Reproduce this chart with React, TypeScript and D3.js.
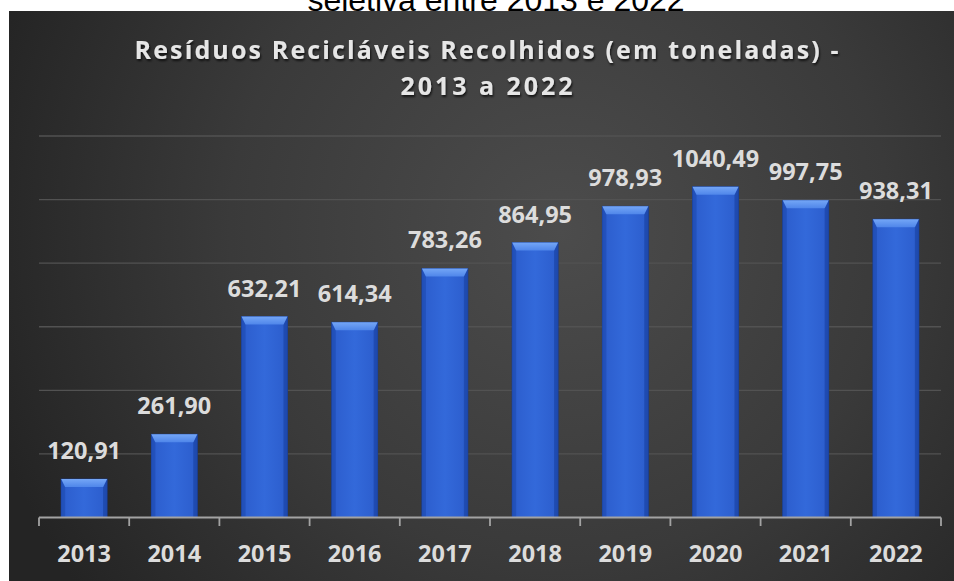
import React from 'react';
import * as d3 from 'd3';

// values
const years = ['2013', '2014', '2015', '2016', '2017', '2018', '2019', '2020', '2021', '2022'];
const tonnes = [120.91, 261.9, 632.21, 614.34, 783.26, 864.95, 978.93, 1040.49, 997.75, 938.31];
const gridValues = [200, 400, 600, 800, 1000, 1200];
const titleLines = ['Resíduos Recicláveis Recolhidos (em toneladas) -', '2013 a 2022'];
const captionAbove = 'seletiva entre 2013 e 2022';

const W = 954;
const H = 581;
const margin = { left: 39, right: 13, top: 136, bottom: 63.5 };
const FONT = "'Open Sans', 'DejaVu Sans', sans-serif";

const ptBR = d3.formatLocale({ decimal: ',', thousands: '', grouping: [3], currency: ['', ''] });
const fmt = ptBR.format('.2f');

const App = () => {
  const x = d3.scaleBand<string>()
    .domain(years)
    .range([margin.left, W - margin.right])
    .padding(0);

  const y = d3.scaleLinear()
    .domain([0, 1200])
    .range([H - margin.bottom, margin.top]);

  const barW = x.bandwidth() * 0.51;
  const bev = 8;
  const side = 4;
  const y0 = y(0);
  const boundaries = years.map(d => x(d) as number).concat([x.range()[1]]);
  const cx = (9 + W) / 2 + 5;

  return (
    <svg width={W} height={H} style={{ position: 'absolute', left: 0, top: 0 }}>
      <defs>
        <radialGradient id="bg" gradientUnits="userSpaceOnUse" cx={560} cy={230} r={600}>
          <stop offset="0" stopColor="#4c4c4c" />
          <stop offset="0.55" stopColor="#3a3a3a" />
          <stop offset="1" stopColor="#242424" />
        </radialGradient>
        <linearGradient id="face" x1="0" x2="1" y1="0" y2="0">
          <stop offset="0" stopColor="#1d48ad" />
          <stop offset="0.1" stopColor="#2d5fcf" />
          <stop offset="0.5" stopColor="#3369da" />
          <stop offset="0.9" stopColor="#2d5fcf" />
          <stop offset="1" stopColor="#1d48ad" />
        </linearGradient>
        <linearGradient id="bevelTop" x1="0" x2="0" y1="0" y2="1">
          <stop offset="0" stopColor="#74a6f6" />
          <stop offset="1" stopColor="#4f86ea" />
        </linearGradient>
        <filter id="shadow" x="-5%" y="-20%" width="110%" height="160%">
          <feDropShadow dx="1" dy="2" stdDeviation="1.2" floodColor="#000" floodOpacity="0.7" />
        </filter>
      </defs>

      <text x={496} y={10.5} textAnchor="middle" fontFamily="'Liberation Sans', Arial, sans-serif"
        fontSize={32} fill="#000">{captionAbove}</text>

      <rect x={9} y={11} width={W - 9} height={H - 11} fill="url(#bg)" />

      {titleLines.map((t, i) => (
        <text key={t} x={cx} y={59 + i * 36} textAnchor="middle" fontFamily={FONT} fontWeight={700}
          fontSize={25} fill="#e6e6e6" filter="url(#shadow)"
          textLength={i === 0 ? 704 : 172} lengthAdjust="spacing">{t}</text>
      ))}

      {gridValues.map(v => (
        <line key={v} x1={x.range()[0]} x2={x.range()[1]} y1={y(v)} y2={y(v)}
          stroke="#525252" strokeWidth={1.4} />
      ))}

      {tonnes.map((v, i) => {
        const bx = (x(years[i]) as number) + (x.bandwidth() - barW) / 2;
        const top = y(v);
        const h = y0 - top;
        return (
          <g key={years[i]}>
            <rect x={bx} y={top} width={barW} height={h} fill="url(#face)" stroke="#183d92" strokeWidth={0.8} />
            <polygon
              points={`${bx},${top} ${bx + side},${top + bev} ${bx + side},${y0} ${bx},${y0}`}
              fill="#2250b9" opacity={0.8} />
            <polygon
              points={`${bx + barW},${top} ${bx + barW - side},${top + bev} ${bx + barW - side},${y0} ${bx + barW},${y0}`}
              fill="#1e49ac" opacity={0.8} />
            <polygon
              points={`${bx},${top} ${bx + barW},${top} ${bx + barW - side},${top + bev} ${bx + side},${top + bev}`}
              fill="url(#bevelTop)" />
          </g>
        );
      })}

      <line x1={x.range()[0]} x2={x.range()[1]} y1={y0} y2={y0} stroke="#a3a3a3" strokeWidth={1.8} />
      {boundaries.map((bx, i) => (
        <line key={i} x1={bx} x2={bx} y1={y0} y2={y0 + 8.5} stroke="#a3a3a3" strokeWidth={1.8} />
      ))}

      {tonnes.map((v, i) => (
        <text key={years[i]} x={(x(years[i]) as number) + x.bandwidth() / 2} y={y(v) - 20}
          textAnchor="middle" fontFamily={FONT} fontWeight={700} fontSize={23.5} fill="#dcdcdc">
          {fmt(v)}
        </text>
      ))}

      {years.map(d => (
        <text key={d} x={(x(d) as number) + x.bandwidth() / 2} y={562}
          textAnchor="middle" fontFamily={FONT} fontWeight={700} fontSize={23.5} fill="#dcdcdc">
          {d}
        </text>
      ))}
    </svg>
  );
};

export default App;
